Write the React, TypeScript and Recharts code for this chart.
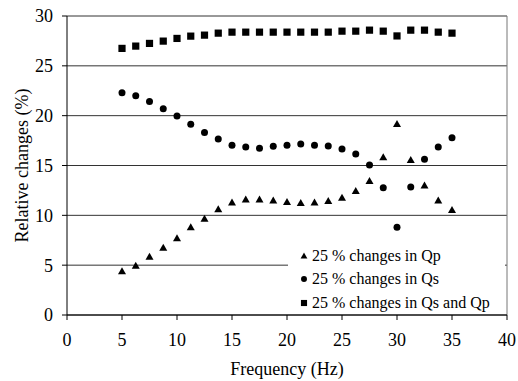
import React from "react";
import { CartesianGrid, ReferenceLine, Scatter, ScatterChart, XAxis, YAxis } from "recharts";

const frequency = [5, 6.25, 7.5, 8.75, 10, 11.25, 12.5, 13.75, 15, 16.25, 17.5, 18.75, 20, 21.25, 22.5, 23.75, 25, 26.25, 27.5, 28.75, 30, 31.25, 32.5, 33.75, 35];
const changeQp = [4.4, 4.95, 5.85, 6.75, 7.7, 8.8, 9.66, 10.6, 11.3, 11.6, 11.6, 11.5, 11.33, 11.23, 11.3, 11.43, 11.77, 12.44, 13.44, 15.82, 19.16, 15.55, 13.0, 11.5, 10.53];
const changeQs = [22.3, 22.0, 21.43, 20.7, 19.96, 19.13, 18.32, 17.65, 17.02, 16.85, 16.72, 16.92, 17.02, 17.15, 17.02, 16.95, 16.65, 16.15, 15.05, 12.77, 8.8, 12.84, 15.62, 16.85, 17.79];
const changeBoth = [26.75, 26.98, 27.25, 27.48, 27.75, 27.98, 28.08, 28.28, 28.38, 28.38, 28.38, 28.38, 28.38, 28.38, 28.38, 28.38, 28.48, 28.48, 28.58, 28.48, 28.0, 28.58, 28.58, 28.38, 28.28];

const xTicks = [0, 5, 10, 15, 20, 25, 30, 35, 40];
const yTicks = [0, 5, 10, 15, 20, 25, 30];
const seriesNames = ["25 % changes in Qp", "25 % changes in Qs", "25 % changes in Qs and Qp"];

// css font stack (html) and plain family name (svg attribute)
const FONT = '"Liberation Serif", serif';
const SVG_FONT = "Liberation Serif";

const toPoints = (ys: number[]) => frequency.map((x, i) => ({ x, y: ys[i] }));

function Triangle({ cx, cy, s = 1 }: any) {
  return <polygon points={`${cx - 4 * s},${cy + 3 * s} ${cx + 4 * s},${cy + 3 * s} ${cx},${cy - 4 * s}`} fill="#000" />;
}
function Dot({ cx, cy, s = 1 }: any) {
  return <circle cx={cx} cy={cy} r={3.5 * s} fill="#000" />;
}
function Square({ cx, cy, s = 1 }: any) {
  return <rect x={cx - 3.6 * s} y={cy - 3.6 * s} width={7.2 * s} height={7.2 * s} fill="#000" />;
}

const markers = [Triangle, Dot, Square];

function LegendBox() {
  return (
    <div
      style={{
        position: "absolute",
        left: 288,
        top: 244,
        width: 217,
        height: 70,
        background: "#fff",
        fontFamily: FONT,
        fontSize: 16,
        color: "#000",
      }}
    >
      {seriesNames.map((name, i) => {
        const M = markers[i];
        return (
          <div key={name} style={{ display: "flex", alignItems: "center", height: 23.5, whiteSpace: "nowrap" }}>
            <svg width={14} height={12} style={{ marginLeft: 10 }}>
              <M cx={6} cy={6} s={0.85} />
            </svg>
            <span>{name}</span>
          </div>
        );
      })}
    </div>
  );
}

function YTitle({ viewBox }: any) {
  const cx = viewBox.x + 22;
  const cy = viewBox.y + viewBox.height / 2;
  return (
    <text x={cx} y={cy} transform={`rotate(-90 ${cx} ${cy})`} textAnchor="middle" dominantBaseline="central" fontFamily={SVG_FONT} fontSize={18} fill="#000">
      Relative changes (%)
    </text>
  );
}

export default function App() {
  const tickStyle = { fontFamily: SVG_FONT, fontSize: 18, fill: "#000" };
  return (
    <div style={{ position: "absolute", left: 0, top: 0, width: 518, height: 381, background: "#fff", fontFamily: FONT }}>
      <ScatterChart width={518} height={381} margin={{ top: 16, right: 11, bottom: 16, left: 0 }} style={{ fontFamily: FONT }}>
        <CartesianGrid horizontal vertical={false} stroke="#333" strokeWidth={1} />
        <XAxis
          type="number"
          dataKey="x"
          domain={[0, 40]}
          ticks={xTicks}
          height={50}
          stroke="#000"
          tickSize={5}
          tickMargin={13}
          tick={tickStyle}
          label={{ value: "Frequency (Hz)", position: "bottom", offset: -3, fontFamily: SVG_FONT, fontSize: 18, fill: "#000" }}
        />
        <YAxis
          type="number"
          dataKey="y"
          domain={[0, 30]}
          ticks={yTicks}
          width={67}
          stroke="#000"
          tickSize={5}
          tickMargin={9}
          tick={tickStyle}
          label={<YTitle />}
        />
        <ReferenceLine x={40} stroke="#777" />
        <Scatter name={seriesNames[0]} data={toPoints(changeQp)} shape={<Triangle />} isAnimationActive={false} />
        <Scatter name={seriesNames[1]} data={toPoints(changeQs)} shape={<Dot />} isAnimationActive={false} />
        <Scatter name={seriesNames[2]} data={toPoints(changeBoth)} shape={<Square />} isAnimationActive={false} />
      </ScatterChart>
      <LegendBox />
    </div>
  );
}
